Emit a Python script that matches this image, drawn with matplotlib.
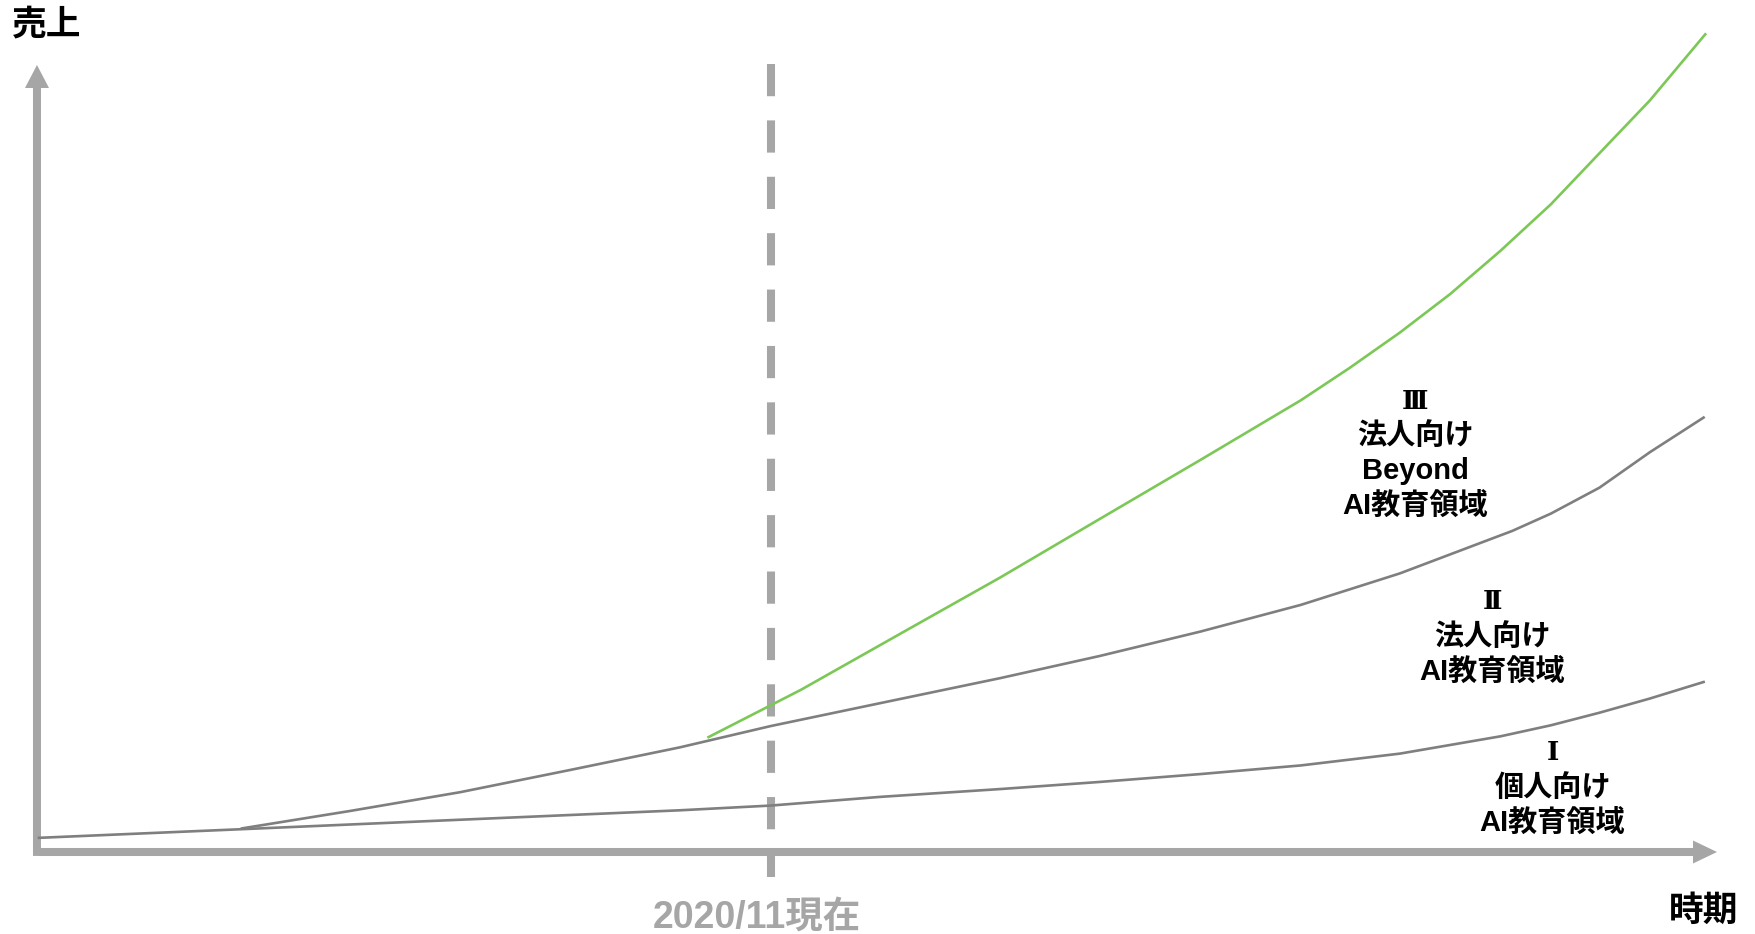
import matplotlib
matplotlib.use("Agg")
import matplotlib.pyplot as plt

# data: time (0..100) vs sales (0..100)
t_personal = [0, 12.1, 25.1, 38.2, 43.6, 50.1, 57.3, 63.2, 69.2, 75.2, 81.1, 87.1, 90.1, 93.0, 96.0, 99.2]
s_personal = [1.8, 2.9, 4.1, 5.3, 5.9, 7.0, 8.0, 8.9, 9.9, 11.0, 12.5, 14.7, 16.1, 17.7, 19.5, 21.6]

t_corp = [12.1, 18.5, 25.1, 31.6, 38.2, 43.6, 50.1, 57.3, 63.2, 69.2, 75.2, 81.1, 87.8, 90.1, 93.0, 96.0, 99.2]
s_corp = [3.0, 5.2, 7.6, 10.4, 13.3, 16.0, 18.9, 22.1, 24.9, 28.0, 31.4, 35.4, 40.8, 43.0, 46.3, 50.8, 55.2]

t_beyond = [39.9, 45.4, 51.3, 57.3, 63.2, 69.2, 72.2, 75.2, 78.1, 81.1, 84.1, 87.1, 90.1, 93.0, 96.0, 99.3]
s_beyond = [14.6, 20.6, 27.7, 34.9, 42.3, 49.8, 53.6, 57.4, 61.5, 66.0, 70.9, 76.4, 82.3, 88.8, 95.5, 103.9]

now_t = 43.6
now_label = "2020/11現在"
numerals = ["Ⅲ", "Ⅱ", "Ⅰ"]
label_lines = [["法人向け", "Beyond", "AI教育領域"], ["法人向け", "AI教育領域"], ["個人向け", "AI教育領域"]]
label_x = [82.0, 86.6, 90.2]
label_top = [57.3, 31.8, 12.6]

FONT = ["Liberation Sans", "Noto Sans CJK JP", "DejaVu Sans"]
SERIF = ["DejaVu Serif", "Noto Sans CJK JP"]
AXIS_GRAY = "#a6a6a6"
LINE_GRAY = "#7f7f7f"
GREEN = "#7cc857"

fig = plt.figure(figsize=(17.55, 9.34), dpi=100)
ax = fig.add_axes([0, 0, 1, 1])
# origin at pixel (39, 852); 1 unit = 16.78 px in x, 7.87 px in y
ax.set_xlim(-39 / 16.78, (1755 - 39) / 16.78)
ax.set_ylim((852 - 934) / 7.87, 852 / 7.87)
ax.axis("off")

# axes arrows
ax.arrow(0, 0, 100, 0, width=1.02, head_width=2.92, head_length=1.43,
         length_includes_head=True, color=AXIS_GRAY, lw=0)
ax.arrow(-0.12, -0.5, 0, 100.5, width=0.477, head_width=1.43, head_length=2.92,
         length_includes_head=True, color=AXIS_GRAY, lw=0)

# "now" dashed line
ax.plot([now_t, now_t], [100.1, -3.2], color=AXIS_GRAY, lw=5.8,
        linestyle=(0, (4, 3)), dash_capstyle="butt")

ax.plot(t_personal, s_personal, color=LINE_GRAY, lw=1.9, solid_joinstyle="round")
ax.plot(t_corp, s_corp, color=LINE_GRAY, lw=1.9, solid_joinstyle="round")
ax.plot(t_beyond, s_beyond, color=GREEN, lw=1.9, solid_joinstyle="round")

ax.text(-1.6, 105.1, "売上", fontsize=25, fontweight="bold", family=FONT,
        ha="left", va="center")
ax.text(101.25, -7.5, "時期", fontsize=25, fontweight="bold", family=FONT,
        ha="right", va="center")
ax.text(42.8, -8.3, now_label, fontsize=27, fontweight="bold", family=FONT,
        color=AXIS_GRAY, ha="center", va="center")

step = 4.45
for num, lines, x, y in zip(numerals, label_lines, label_x, label_top):
    ax.text(x, y, num, fontsize=19, fontweight="bold", family=SERIF,
            ha="center", va="center")
    for i, line in enumerate(lines):
        ax.text(x, y - step * (i + 1), line, fontsize=21, fontweight="bold",
                family=FONT, ha="center", va="center")

fig.savefig("out.png", dpi=100)
